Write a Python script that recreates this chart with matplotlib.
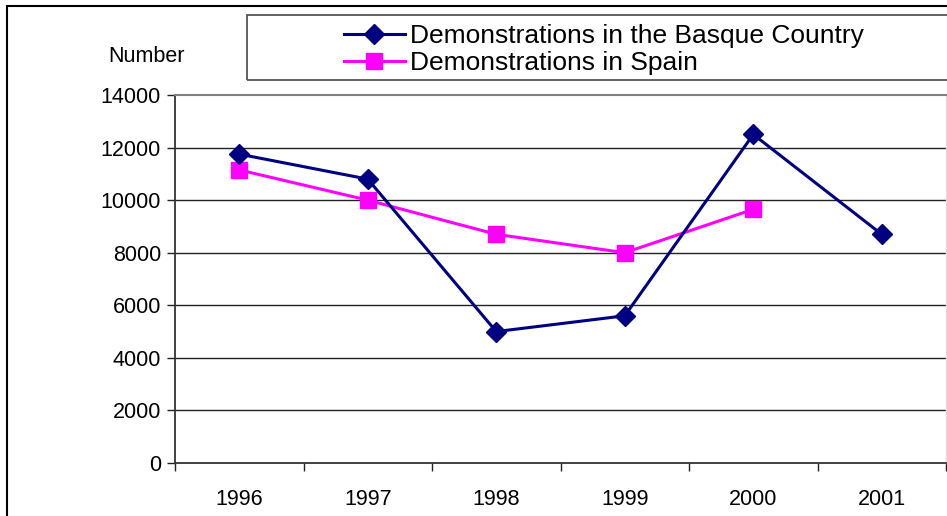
import matplotlib
matplotlib.use("Agg")
import matplotlib.pyplot as plt
from matplotlib.patches import Rectangle
import numpy as np

years = ["1996", "1997", "1998", "1999", "2000", "2001"]
basque = [11750, 10800, 5000, 5600, 12500, 8700]
spain = [11150, 10000, 8700, 8000, 9650]
y_ticks = [0, 2000, 4000, 6000, 8000, 10000, 12000, 14000]

plt.rcParams['font.family'] = ['Liberation Sans', 'DejaVu Sans']

W, H = 947, 516
fig = plt.figure(figsize=(W / 100, H / 100), dpi=100)

def fx(px):
    return px / W

def fy(py):
    return 1 - py / H

left, right, top, bottom = 175, 946, 95, 463
ax = fig.add_axes([fx(left), fy(bottom), fx(right) - fx(left), fy(top) - fy(bottom)])

x = np.arange(len(years))
ax.plot(x, basque, color='#000080', lw=2.2, marker='D', markersize=10,
        label='Demonstrations in the Basque Country', zorder=4)
ax.plot(x[:len(spain)], spain, color='#FF00FF', lw=2.2, marker='s', markersize=11,
        label='Demonstrations in Spain', zorder=3)

ax.set_xlim(-0.5, len(years) - 0.5)
ax.set_ylim(0, 14000)
ax.set_yticks(y_ticks)
ax.set_yticklabels([str(v) for v in y_ticks], fontsize=15.5)
ax.set_xticks(np.arange(len(years) + 1) - 0.5)
ax.set_xticklabels([])
ax.set_xticks(x, minor=True)
ax.set_xticklabels(years, minor=True, fontsize=15.5)
ax.tick_params(axis='x', which='major', direction='out', length=6, width=1, color='#222222')
ax.tick_params(axis='x', which='minor', length=0, pad=19)
ax.tick_params(axis='y', direction='out', length=6, width=1, color='#222222', pad=4)

for v in y_ticks[1:-1]:
    ax.axhline(v, color='#222222', lw=1, zorder=1)

for s in ['left', 'bottom']:
    ax.spines[s].set_color('#333333')
    ax.spines[s].set_linewidth(1.3)
ax.spines['top'].set_color('#808080')
ax.spines['top'].set_linewidth(1.5)
ax.spines['right'].set_color('#dddddd')
ax.spines['right'].set_linewidth(1)

fig.text(fx(147), fy(57), 'Number', fontsize=15.5, ha='center', va='center')

# outer chart border
fig.patches.append(Rectangle((fx(7), fy(H + 20)), fx(W + 20) - fx(7), fy(6) - fy(H + 20),
                             transform=fig.transFigure, fill=False, edgecolor='black',
                             lw=1.5, clip_on=False))
# legend frame
fig.patches.append(Rectangle((fx(247), fy(80)), fx(W + 20) - fx(247), fy(15) - fy(80),
                             transform=fig.transFigure, fill=False, edgecolor='#555555',
                             lw=1.3, clip_on=False))

leg = fig.legend(loc='upper left', bbox_to_anchor=(fx(344), fy(24)), frameon=False,
                 fontsize=19, handlelength=2.3, handletextpad=0.2, labelspacing=0.12,
                 borderpad=0, borderaxespad=0)

fig.savefig('out.png', dpi=100)
